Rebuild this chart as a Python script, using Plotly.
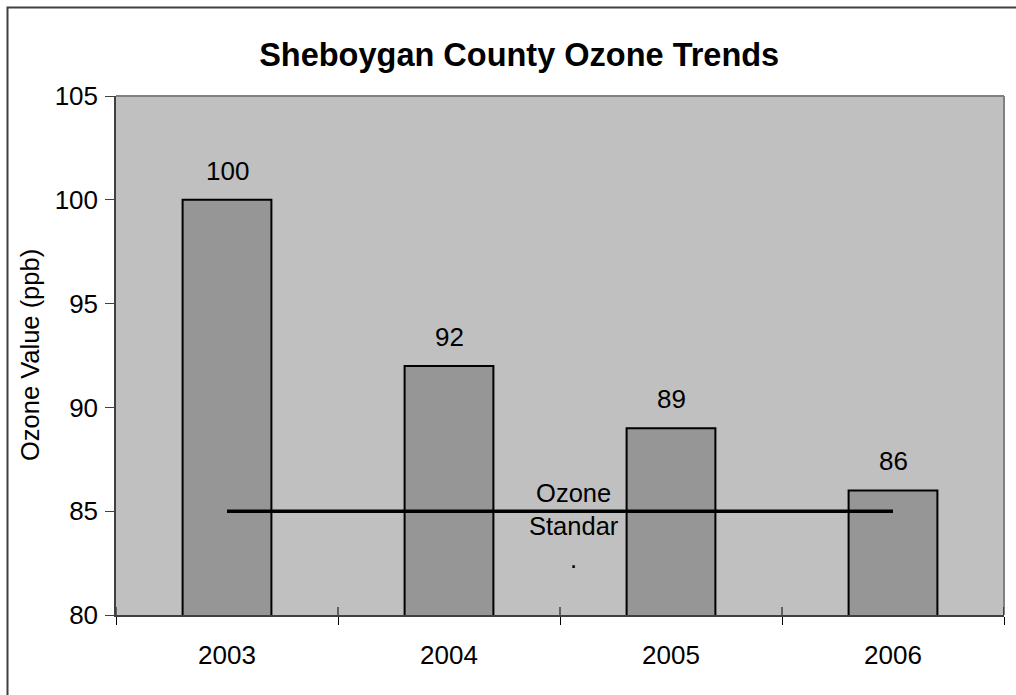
import plotly.graph_objects as go

# Annual ozone values (ppb) and the ozone standard
years = ["2003", "2004", "2005", "2006"]
ozone_ppb = [100, 92, 89, 86]
standard_ppb = 85
standard_label = "Ozone<br>Standar<br>."

FONT = "Arial, Liberation Sans, sans-serif"

W, H = 1016, 695
L, R, T, B = 116, 12, 96, 80
PW, PH = W - L - R, H - T - B


def px_x(px):
    return (px - L) / PW


def px_y(py):
    return (H - B - py) / PH


fig = go.Figure()

fig.add_trace(go.Bar(
    x=years, y=ozone_ppb, width=0.4,
    marker=dict(color="#969696", line=dict(color="black", width=2)),
    hoverinfo="x+y", showlegend=False,
))

fig.add_trace(go.Scatter(
    x=years, y=[standard_ppb] * len(years), mode="lines",
    line=dict(color="black", width=3.5), showlegend=False,
))

annotations = []
# value labels above each bar (category index positions)
for i, v in enumerate(ozone_ppb):
    annotations.append(dict(
        x=i, y=v, xref="x", yref="y", text=str(v), showarrow=False,
        yanchor="bottom", yshift=12, font=dict(family=FONT, size=26, color="black"),
    ))

# wrapped label of the standard line
annotations.append(dict(
    x=px_x(574), xref="paper", y=standard_ppb - 0.7, yref="y", text=standard_label,
    showarrow=False, align="center", xanchor="center", yanchor="middle",
    font=dict(family=FONT, size=25.5, color="black"),
))

annotations.append(dict(
    x=px_x(30), xref="paper", y=px_y(355), yref="paper",
    text="Ozone Value (ppb)", textangle=-90, showarrow=False,
    xanchor="center", yanchor="middle",
    font=dict(family=FONT, size=25.5, color="black"),
))

shapes = [
    # outer chart frame
    dict(type="rect", xref="paper", yref="paper",
         x0=px_x(7.5), x1=px_x(1040), y0=px_y(720), y1=px_y(7.5),
         line=dict(color="#404040", width=2), fillcolor="rgba(0,0,0,0)", layer="above"),
    # top and right plot-area edges
    dict(type="line", xref="paper", yref="paper", x0=0, x1=1, y0=1, y1=1,
         line=dict(color="#808080", width=2)),
    dict(type="line", xref="paper", yref="paper", x0=1, x1=1, y0=0, y1=1,
         line=dict(color="#808080", width=2)),
]
# inner halves of the crossing category ticks
for b in [-0.5, 0.5, 1.5, 2.5, 3.5]:
    shapes.append(dict(type="line", xref="x", yref="paper", x0=b, x1=b,
                       y0=0, y1=8 / PH, line=dict(color="black", width=1)))

fig.update_layout(
    width=W, height=H,
    margin=dict(l=L, r=R, t=T, b=B),
    paper_bgcolor="white", plot_bgcolor="#C0C0C0",
    title=dict(text="<b>Sheboygan County Ozone Trends</b>", x=0.511, xref="container",
               y=1 - 55 / H, yref="container", xanchor="center", yanchor="middle",
               font=dict(family=FONT, size=32.5, color="black")),
    xaxis=dict(type="category", tickson="boundaries", ticks="outside", ticklen=8,
               tickcolor="black", showline=True, linecolor="#404040", linewidth=2,
               showgrid=False, tickfont=dict(family=FONT, size=26, color="black"),
               ticklabelstandoff=16, range=[-0.5, 3.5]),
    yaxis=dict(range=[80, 105], dtick=5, ticks="outside", ticklen=9, tickcolor="#404040",
               showline=True, linecolor="#404040", linewidth=1.5, showgrid=False,
               zeroline=False, ticklabelstandoff=2,
               tickfont=dict(family=FONT, size=26, color="black")),
    annotations=annotations, shapes=shapes, bargap=0.6,
)

fig.write_html("out.html")
